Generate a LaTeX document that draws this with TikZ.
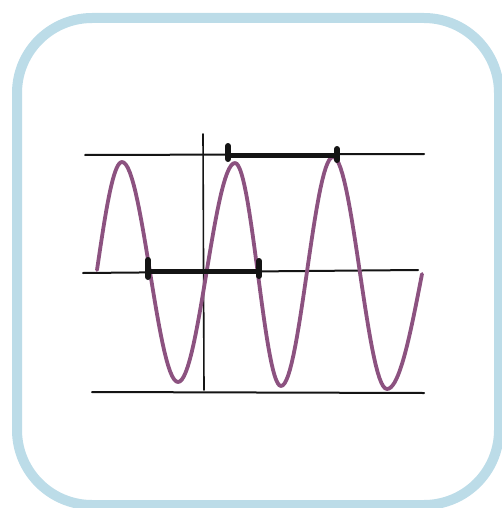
\documentclass[tikz,border=0pt]{standalone}
\usetikzlibrary{calc}
\definecolor{frameC}{HTML}{BCDCE8}
\definecolor{waveC} {HTML}{8C5280}
\definecolor{inkC}  {HTML}{141414}
\tikzset{
  frameBox/.style={draw=frameC,line width=10pt,rounded corners=75pt,fill=white},
  guideLine/.style={draw=inkC,line width=2pt,line cap=round},
  axisLine/.style={draw=inkC,line width=1.6pt,line cap=round},
  waveLine/.style={draw=waveC,line width=3.8pt,line cap=round,line join=round},
  spanBar/.style={draw=inkC,line width=5pt,line cap=round},
  spanTick/.style={draw=inkC,line width=6pt,line cap=round},
}
\begin{document}
\begin{tikzpicture}[x=1pt,y=-1pt]
\useasboundingbox (0,0) rectangle (502,508);

% Card frame, cut at the right and bottom edges.
\begin{scope}
  \clip (0,0) rectangle (502,508);
  \draw[frameBox] (17,18) rectangle (499,505);
\end{scope}

% Guide lines: peak level, middle level, trough level, and the axis.
\coordinate (topL) at (85,155);  \coordinate (topR) at (424,154);
\coordinate (midL) at (83,273);  \coordinate (midR) at (418,270);
\coordinate (lowL) at (92,392);  \coordinate (lowR) at (424,393);
\coordinate (axT)  at (203,134); \coordinate (axB)  at (204,390);
\draw[guideLine] (topL) -- (topR);
\draw[guideLine] (midL) -- (midR);
\draw[guideLine] (lowL) -- (lowR);
\draw[axisLine]  (axT) -- (axB);

% Wave: quarter cycle up, five half cycles, quarter cycle up.
\draw[waveLine] plot[domain=0:1,samples=20] ({97+25*\x},{270-108*sin(90*\x)});
\foreach \xa/\ya/\xb/\yb in {122/162/178/382, 178/382/235/163, 235/163/281/386,
                             281/386/333/157, 333/157/387/389} {
  \draw[waveLine] plot[domain=0:1,samples=30]
    ({\xa+(\xb-\xa)*\x},{(\ya+\yb)/2+(\ya-\yb)/2*cos(180*\x)});
}
\draw[waveLine] plot[domain=0:1,samples=20] ({387+35*\x},{274+115*cos(90*\x)});

% Period markers.
\coordinate (perA) at (228,155); \coordinate (perB) at (337,155);
\coordinate (perC) at (148,271); \coordinate (perD) at (259,271);
\draw[spanBar] (perA) -- (perB);
\draw[spanBar] (perC) -- (perD);
\draw[spanTick] ([yshift=9pt]perA) -- ([yshift=-4pt]perA);
\draw[spanTick] ([yshift=6pt]perB) -- ([yshift=-5pt]perB);
\draw[spanTick] ([yshift=11pt]perC) -- ([yshift=-6pt]perC);
\draw[spanTick] ([yshift=10pt]perD) -- ([yshift=-5pt]perD);

\end{tikzpicture}
\end{document}
